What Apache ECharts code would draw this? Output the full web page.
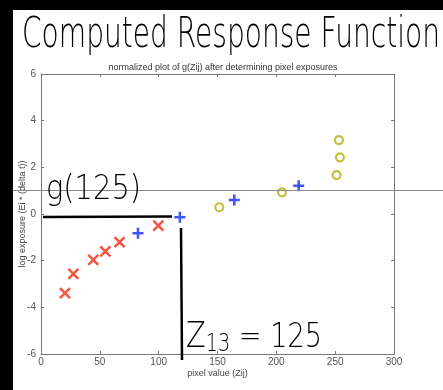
<!DOCTYPE html>
<html><head><meta charset="utf-8">
<script src="https://cdn.jsdelivr.net/npm/echarts@6/dist/echarts.min.js"></script>
<style>html,body{margin:0;padding:0;background:#fff}#c{width:443px;height:390px}</style>
</head><body><div id="c"></div>
<script>
const xTicks = [0, 50, 100, 150, 200, 250, 300];
const yTicks = [-6, -4, -2, 0, 2, 4, 6];
const redX = [20.4, 27.5, 44.4, 54.7, 66.8, 99.7];
const redY = [-3.39, -2.57, -1.97, -1.6, -1.21, -0.5];
const blueX = [82.4, 118, 164.3, 219];
const blueY = [-0.83, -0.14, 0.6, 1.21];
const yellowX = [151.5, 204.8, 251.2, 254, 253.2];
const yellowY = [0.29, 0.93, 1.67, 2.43, 3.17];

const pairs = (xs, ys) => xs.map((x, i) => [x, ys[i]]);
const hand = '"DejaVu Sans ExtraLight", "DejaVu Sans"';
const handFont = (s) => '200 ' + s + 'px ' + hand;
function fitScale(text, size, width) {
  const c = document.createElement('canvas').getContext('2d');
  c.font = handFont(size);
  return width / c.measureText(text).width;
}
const titleText = 'Computed Response Function';
const titleScale = fitScale(titleText, 42, 418);

const chart = echarts.init(document.getElementById('c'));
const axisCommon = {
  axisLine: { show: true, onZero: false, lineStyle: { color: '#777', width: 1 } },
  axisTick: { show: true, inside: true, length: 3, lineStyle: { color: '#777' } },
  splitLine: { show: false }
};
chart.setOption({
  animation: false,
  backgroundColor: '#fff',
  title: {
    text: 'normalized plot of g(Zij) after determining pixel exposures',
    left: 218, textAlign: 'center', top: 58,
    textStyle: { fontFamily: 'Liberation Sans', fontSize: 9, fontWeight: 'normal', color: '#333' }
  },
  grid: { left: 41, right: 49, top: 74, bottom: 36 },
  xAxis: [
    Object.assign({}, axisCommon, {
      type: 'value', min: 0, max: 300, interval: 50, position: 'bottom',
      name: 'pixel value (Zij)', nameLocation: 'middle', nameGap: 15, nameMoveOverlap: false,
      nameTextStyle: { fontFamily: 'Liberation Sans', fontSize: 9, color: '#444' },
      axisLabel: { fontFamily: 'Liberation Sans', fontSize: 10, color: '#555', margin: 3,
        formatter: v => xTicks.includes(v) ? String(v) : '' }
    }),
    Object.assign({}, axisCommon, {
      type: 'value', min: 0, max: 300, interval: 50, position: 'top',
      axisLabel: { show: false }
    })
  ],
  yAxis: [
    Object.assign({}, axisCommon, {
      type: 'value', min: -6, max: 6, interval: 2, position: 'left',
      name: 'log exposure (Ei * (delta t))', nameLocation: 'middle', nameGap: 14, nameMoveOverlap: false,
      nameTextStyle: { fontFamily: 'Liberation Sans', fontSize: 9, color: '#444' },
      axisLabel: { fontFamily: 'Liberation Sans', fontSize: 10, color: '#555', margin: 5,
        formatter: v => yTicks.includes(v) ? String(v) : '' }
    }),
    Object.assign({}, axisCommon, {
      type: 'value', min: -6, max: 6, interval: 2, position: 'right',
      axisLabel: { show: false }
    })
  ],
  series: [
    { type: 'scatter', data: pairs(redX, redY), symbol: 'path://M0,0L10,10M10,0L0,10',
      symbolSize: 10, itemStyle: { color: 'transparent', borderColor: '#f02a10', borderWidth: 2.5 } },
    { type: 'scatter', data: pairs(blueX, blueY), symbol: 'path://M5,0L5,10M0,5L10,5',
      symbolSize: 11, itemStyle: { color: 'transparent', borderColor: '#0f2cf0', borderWidth: 2.5 } },
    { type: 'scatter', data: pairs(yellowX, yellowY), symbol: 'circle',
      symbolSize: 8, itemStyle: { color: 'transparent', borderColor: '#b4b20a', borderWidth: 2.2 } }
  ],
  graphic: [
    { type: 'rect', shape: { x: 0, y: 0, width: 443, height: 10 }, style: { fill: '#000' }, z: 100 },
    { type: 'rect', shape: { x: 0, y: 0, width: 13, height: 390 }, style: { fill: '#000' }, z: 100 },
    { type: 'line', shape: { x1: 13, y1: 190.5, x2: 443, y2: 190.5 }, style: { stroke: '#888', lineWidth: 1 }, z: 50 },
    { type: 'text', x: 22, y: 15, scaleX: titleScale, z: 60,
      style: { text: titleText, font: handFont(42), fill: '#000' } },
    { type: 'text', x: 46, y: 173, scaleX: 0.85, z: 60,
      style: { text: 'g(125)', font: handFont(34), fill: '#000' } },
    { type: 'line', shape: { x1: 43, y1: 217, x2: 172, y2: 216.5 }, style: { stroke: '#000', lineWidth: 2.5 }, z: 60 },
    { type: 'line', shape: { x1: 181, y1: 228, x2: 182, y2: 360 }, style: { stroke: '#000', lineWidth: 2.5 }, z: 60 },
    { type: 'text', x: 186, y: 319, scaleX: 0.8, z: 60,
      style: { text: '{z|Z}{s|13}{n| = 125}', fill: '#000',
        rich: {
          z: { font: handFont(36), fill: '#000' },
          s: { font: handFont(24), fill: '#000', padding: [14, 0, 0, 0] },
          n: { font: handFont(34), fill: '#000' }
        } } }
  ]
});
</script></body></html>
